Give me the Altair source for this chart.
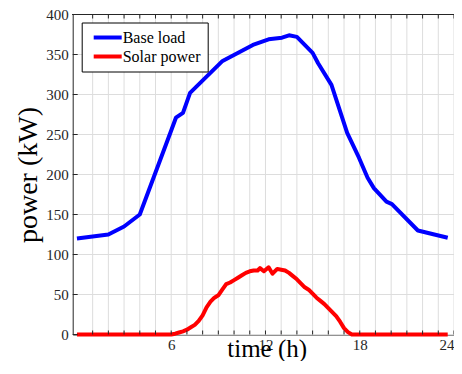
import altair as alt
import pandas as pd

# ---- data ----
hours_base = [0, 2, 3, 4, 6, 6.3, 6.75, 7.2, 9.27, 11.2, 12.2, 13.05, 13.5, 14.0,
              15.0, 15.35, 16.2, 17.2, 17.95, 18.5, 18.9, 19.7, 20.05, 21.7, 23.6]
base_load = [120, 125, 135, 150, 255, 271, 277, 302, 342, 362, 369, 371, 374, 372,
             352, 339, 312, 252, 221, 196, 183, 166, 163, 130, 121]

hours_solar = [0, 6.0, 6.25, 6.5, 6.75, 7.0, 7.25, 7.5, 7.75, 8.0, 8.25, 8.5, 8.75, 9.0,
               9.25, 9.5, 9.75, 10.0, 10.25, 10.5, 10.75, 11.0, 11.25, 11.5, 11.65,
               11.9, 12.2, 12.45, 12.75, 13.0, 13.25, 13.5, 13.75, 14.0, 14.25, 14.5,
               14.75, 15.0, 15.25, 15.5, 15.75, 16.0, 16.25, 16.5, 16.75, 17.0, 17.25,
               17.5, 23.6]
solar_power = [0, 0, 1, 2.5, 4, 6, 9, 12, 17, 24, 34, 41, 46, 49,
               56, 63, 65, 68, 71, 74, 77, 79, 80, 80, 83,
               79, 84, 76, 82, 81, 80, 77, 73, 69, 64, 59,
               56, 51, 46, 42, 38, 33, 28, 23, 16, 8, 3,
               0, 0]

series_names = ["Base load", "Solar power"]
series_colors = ["#0000ff", "#ff0000"]
hour_ticks = list(range(1, 25))
power_ticks = list(range(0, 401, 50))

df = pd.concat([
    pd.DataFrame({"t": hours_base, "p": base_load, "s": series_names[0]}),
    pd.DataFrame({"t": hours_solar, "p": solar_power, "s": series_names[1]}),
], ignore_index=True)
hours_df = pd.DataFrame({"t": hour_ticks})
power_df = pd.DataFrame({"p": power_ticks})

# the page must not be wider than 462 or taller than 374 (8px body margins)
W = 381.3
H = 320.0
FONT = "Liberation Serif"
AX = "#262626"
GRID = "#dddddd"

x_scale = alt.Scale(domain=[-0.27, 24.0], nice=False, zero=False)
y_scale = alt.Scale(domain=[0, 400], nice=False, zero=False)

x_axis = alt.Axis(
    orient="bottom", values=hour_ticks,
    labelExpr="datum.value % 6 == 0 ? datum.label : ''",
    tickSize=0, labelPadding=2.5, labelFontSize=15, labelFont=FONT, labelColor=AX,
    labelOverlap=False, labelFlush=8, labelFlushOffset=0,
    title="time (h)", titleFont=FONT, titleFontSize=25, titleFontWeight="normal",
    titleColor="#000000", titleBaseline="alphabetic", titleY=21.5, titleX=194,
    grid=False, domain=True, domainColor=AX, domainWidth=1)
y_axis = alt.Axis(
    orient="left", values=power_ticks,
    tickSize=0, labelPadding=4.5, labelFontSize=15, labelFont=FONT, labelColor=AX,
    labelOverlap=False,
    title="power (kW)", titleFont=FONT, titleFontSize=28, titleFontWeight="normal",
    titleColor="#000000", titleBaseline="alphabetic", titleX=-36, titleAngle=270,
    grid=False, domain=True, domainColor=AX, domainWidth=1)

# light grid
v_grid = alt.Chart(hours_df).mark_rule(color=GRID, strokeWidth=1).encode(
    x=alt.X("t:Q", scale=x_scale, axis=x_axis),
    y=alt.value(0), y2=alt.value(H),
)
h_grid = alt.Chart(power_df).mark_rule(color=GRID, strokeWidth=1).encode(
    y=alt.Y("p:Q", scale=y_scale, axis=y_axis),
    x=alt.value(0), x2=alt.value(W),
)

lines = alt.Chart(df).mark_line(strokeWidth=4, strokeJoin="round").encode(
    x=alt.X("t:Q", scale=x_scale, axis=x_axis),
    y=alt.Y("p:Q", scale=y_scale, axis=y_axis),
    color=alt.Color("s:N", scale=alt.Scale(domain=series_names, range=series_colors),
                    legend=alt.Legend(
                        title=None, orient="none", legendX=9, legendY=8,
                        symbolType="M-3.5,0H3.5", symbolStrokeWidth=4, symbolSize=64,
                        symbolOffset=11,
                        labelFont=FONT, labelFontSize=16, labelColor="#000000",
                        labelOffset=7, rowPadding=3, padding=7,
                        strokeColor="#000000", fillColor="#ffffff", cornerRadius=0)),
)

# inward ticks along the bottom, top and left edges, and the top frame line
bottom_ticks = alt.Chart(hours_df).mark_rule(color=AX, strokeWidth=1).encode(
    x=alt.X("t:Q", scale=x_scale, axis=x_axis),
    y=alt.value(H), y2=alt.value(H - 4),
)
top_ticks = alt.Chart(hours_df).mark_rule(color=AX, strokeWidth=1).encode(
    x=alt.X("t:Q", scale=x_scale, axis=x_axis),
    y=alt.value(0), y2=alt.value(4),
)
left_ticks = alt.Chart(power_df).mark_rule(color=AX, strokeWidth=1).encode(
    y=alt.Y("p:Q", scale=y_scale, axis=y_axis),
    x=alt.value(0), x2=alt.value(5),
)
top_frame = alt.Chart(power_df).mark_rule(color=AX, strokeWidth=1).encode(
    x=alt.value(0), x2=alt.value(W), y=alt.value(0),
)

chart = alt.layer(v_grid, h_grid, lines, bottom_ticks, top_ticks, left_ticks,
                  top_frame).properties(
    width=W, height=H,
    autosize=alt.AutoSizeParams(type="none"),
    padding={"left": 64.7, "top": 6.5, "right": 0, "bottom": 26.5},
    background="#ffffff",
).configure_view(stroke=None)

chart.save("out.html", embed_options={"renderer": "svg", "actions": False})
